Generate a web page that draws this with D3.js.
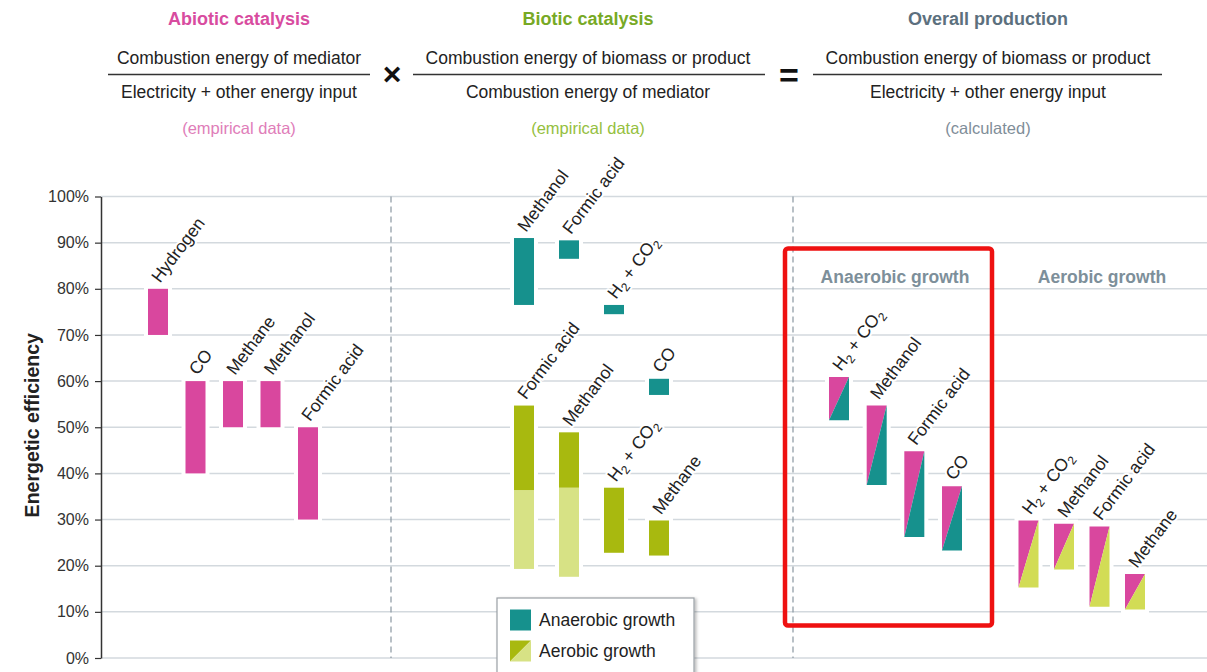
<!DOCTYPE html>
<html>
<head>
<meta charset="utf-8">
<script src="https://cdn.jsdelivr.net/npm/d3@7"></script>
<style>
  html, body { margin: 0; padding: 0; background: #fff; }
  svg { display: block; font-family: "Liberation Sans", Arial, Helvetica, sans-serif; }
</style>
</head>
<body>
<svg id="chart" width="1207" height="672"></svg>
<script>
// ---------- DATA ----------
const yTicks = [0, 0.1, 0.2, 0.3, 0.4, 0.5, 0.6, 0.7, 0.8, 0.9, 1.0];

// Abiotic catalysis (empirical)
const abioticCats = ["Hydrogen", "CO", "Methane", "Methanol", "Formic acid"];
const abioticLow  = [0.70, 0.40, 0.50, 0.50, 0.30];
const abioticHigh = [0.80, 0.60, 0.60, 0.60, 0.50];

// Biotic catalysis - anaerobic growth
const bioAnaCats = ["Methanol", "Formic acid", "H2 + CO2", "CO"];
const bioAnaLow  = [0.765, 0.865, 0.745, 0.570];
const bioAnaHigh = [0.910, 0.905, 0.765, 0.605];

// Biotic catalysis - aerobic growth (dark part and light extension)
const bioAerCats     = ["Formic acid", "Methanol", "H2 + CO2", "Methane"];
const bioAerDarkLow  = [0.364, 0.369, 0.228, 0.222];
const bioAerDarkHigh = [0.547, 0.489, 0.369, 0.298];
const bioAerLightLow  = [0.193, 0.176, null, null];
const bioAerLightHigh = [0.364, 0.369, null, null];

// Overall production - anaerobic growth (calculated)
const ovAnaCats = ["H2 + CO2", "Methanol", "Formic acid", "CO"];
const ovAnaLow  = [0.515, 0.375, 0.262, 0.233];
const ovAnaHigh = [0.609, 0.547, 0.448, 0.372];

// Overall production - aerobic growth (calculated)
const ovAerCats = ["H2 + CO2", "Methanol", "Formic acid", "Methane"];
const ovAerLow  = [0.153, 0.192, 0.111, 0.105];
const ovAerHigh = [0.298, 0.291, 0.285, 0.182];

const legendLabels = ["Anaerobic growth", "Aerobic growth"];

// ---------- STYLE ----------
const C = {
  pink: "#d9479e",
  teal: "#16918d",
  olive: "#a8b90f",
  oliveLight: "#d7e285",
  aerOverall: "#d2dc55",
  grid: "#d3d9de",
  dash: "#8a97a1",
  text: "#222",
  abio: "#d84c9f",
  abioSub: "#e07db9",
  bio: "#77a925",
  bioSub: "#95c040",
  ov: "#5c707e",
  ovSub: "#7f8e99",
  section: "#7d8f9a"
};

const svg = d3.select("#chart");
svg.append("rect").attr("width", 1207).attr("height", 672).attr("fill", "#fff");

const y = d3.scaleLinear().domain([0, 1]).range([658, 196.5]);
const xLeft = 101, xRight = 1207;
const barW = 20;

// gridlines
svg.append("g").selectAll("line").data(yTicks).join("line")
  .attr("x1", xLeft).attr("x2", xRight)
  .attr("y1", d => y(d)).attr("y2", d => y(d))
  .attr("stroke", C.grid).attr("stroke-width", 1.5);

// dashed separators
svg.append("g").selectAll("line").data([391, 793]).join("line")
  .attr("x1", d => d).attr("x2", d => d)
  .attr("y1", y(1)).attr("y2", y(0))
  .attr("stroke", C.dash).attr("stroke-width", 1.2)
  .attr("stroke-dasharray", "6,4");

// y axis
const yAxis = d3.axisLeft(y).tickValues(yTicks).tickFormat(d3.format(".0%"))
  .tickSize(6).tickSizeOuter(0).tickPadding(6);
const gy = svg.append("g").attr("transform", `translate(${xLeft},0)`).call(yAxis);
gy.select(".domain").attr("stroke", "#333").attr("stroke-width", 1.5);
gy.selectAll(".tick line").attr("stroke", "#333").attr("stroke-width", 1.2);
gy.selectAll(".tick text").attr("fill", "#333").attr("font-size", 16)
  .attr("font-family", "Liberation Sans, Arial, sans-serif");

svg.append("text")
  .attr("transform", `translate(39,${y(0.5) - 2}) rotate(-90)`)
  .attr("text-anchor", "middle")
  .attr("font-size", 19.5).attr("font-weight", "bold").attr("fill", C.text)
  .text("Energetic efficiency");

// ---------- HEADER ----------
function header(cx, title, col, num, den, sub, subCol, lineX1, lineX2) {
  const g = svg.append("g");
  g.append("text").attr("x", cx).attr("y", 19).attr("dy", "0.35em")
    .attr("text-anchor", "middle").attr("font-size", 18).attr("font-weight", "bold")
    .attr("fill", col).text(title);
  g.append("text").attr("x", cx).attr("y", 58).attr("dy", "0.35em")
    .attr("text-anchor", "middle").attr("font-size", 17.5).attr("fill", C.text).text(num);
  g.append("line").attr("x1", lineX1).attr("x2", lineX2).attr("y1", 74.5).attr("y2", 74.5)
    .attr("stroke", "#333").attr("stroke-width", 1.6);
  g.append("text").attr("x", cx).attr("y", 92).attr("dy", "0.35em")
    .attr("text-anchor", "middle").attr("font-size", 17.5).attr("fill", C.text).text(den);
  g.append("text").attr("x", cx).attr("y", 128).attr("dy", "0.35em")
    .attr("text-anchor", "middle").attr("font-size", 16.5).attr("fill", subCol).text(sub);
}
header(239, "Abiotic catalysis", C.abio, "Combustion energy of mediator",
  "Electricity + other energy input", "(empirical data)", C.abioSub, 108, 370);
header(588, "Biotic catalysis", C.bio, "Combustion energy of biomass or product",
  "Combustion energy of mediator", "(empirical data)", C.bioSub, 413, 765);
header(988, "Overall production", C.ov, "Combustion energy of biomass or product",
  "Electricity + other energy input", "(calculated)", C.ovSub, 813, 1162);

svg.append("text").attr("x", 392).attr("y", 74).attr("dy", "0.35em")
  .attr("text-anchor", "middle").attr("font-size", 32).attr("font-weight", "bold")
  .attr("fill", "#111").text("×");
svg.append("text").attr("x", 789).attr("y", 75).attr("dy", "0.35em")
  .attr("text-anchor", "middle").attr("font-size", 34).attr("font-weight", "bold")
  .attr("fill", "#111").text("=");

// ---------- BARS ----------
const haloG = svg.append("g");
const barG = svg.append("g");
const labelG = svg.append("g");

function halo(cx, lo, hi) {
  haloG.append("rect").attr("x", cx - barW / 2 - 4).attr("width", barW + 8)
    .attr("y", y(hi) - 4).attr("height", y(lo) - y(hi) + 8).attr("fill", "#fff");
}
function rectBar(cx, lo, hi, fill) {
  barG.append("rect").attr("x", cx - barW / 2).attr("width", barW)
    .attr("y", y(hi)).attr("height", y(lo) - y(hi)).attr("fill", fill);
}
function splitBar(cx, lo, hi, topCol, botCol) {
  const x0 = cx - barW / 2, x1 = cx + barW / 2, yt = y(hi), yb = y(lo);
  barG.append("path").attr("d", `M${x0},${yt}L${x1},${yt}L${x0},${yb}Z`).attr("fill", topCol);
  barG.append("path").attr("d", `M${x1},${yt}L${x1},${yb}L${x0},${yb}Z`).attr("fill", botCol);
}
function label(cx, top, name) {
  const t = labelG.append("text")
    .attr("transform", `translate(${cx + 2},${y(top) - 5}) rotate(-53)`)
    .attr("font-size", 17.5).attr("fill", C.text)
    .attr("stroke", "#fff").attr("stroke-width", 4).attr("paint-order", "stroke")
    .attr("stroke-linejoin", "round");
  const parts = name.split(/(\d)/).filter(s => s.length);
  let shifted = false;
  parts.forEach(p => {
    if (/^\d$/.test(p)) {
      t.append("tspan").attr("font-size", 12).attr("dy", 4).text(p);
      shifted = true;
    } else {
      const ts = t.append("tspan").text(p);
      if (shifted) { ts.attr("dy", -4); shifted = false; }
    }
  });
}

// abiotic
const xAb = d3.scalePoint().domain(d3.range(abioticCats.length)).range([158, 308]);
abioticCats.forEach((c, i) => {
  halo(xAb(i), abioticLow[i], abioticHigh[i]);
  rectBar(xAb(i), abioticLow[i], abioticHigh[i], C.pink);
  label(xAb(i), abioticHigh[i], c);
});

// biotic
const xBio = d3.scalePoint().domain(d3.range(4)).range([524, 659]);
bioAnaCats.forEach((c, i) => {
  halo(xBio(i), bioAnaLow[i], bioAnaHigh[i]);
  rectBar(xBio(i), bioAnaLow[i], bioAnaHigh[i], C.teal);
  label(xBio(i), bioAnaHigh[i], c);
});
bioAerCats.forEach((c, i) => {
  const lo = bioAerLightLow[i] != null ? bioAerLightLow[i] : bioAerDarkLow[i];
  halo(xBio(i), lo, bioAerDarkHigh[i]);
  if (bioAerLightLow[i] != null) rectBar(xBio(i), bioAerLightLow[i], bioAerLightHigh[i], C.oliveLight);
  rectBar(xBio(i), bioAerDarkLow[i], bioAerDarkHigh[i], C.olive);
  label(xBio(i), bioAerDarkHigh[i], c);
});

// overall anaerobic
const xOvA = d3.scalePoint().domain(d3.range(4)).range([839, 952]);
ovAnaCats.forEach((c, i) => {
  halo(xOvA(i), ovAnaLow[i], ovAnaHigh[i]);
  splitBar(xOvA(i), ovAnaLow[i], ovAnaHigh[i], C.pink, C.teal);
  label(xOvA(i), ovAnaHigh[i], c);
});
// overall aerobic
const xOvB = d3.scalePoint().domain(d3.range(4)).range([1028.5, 1135]);
ovAerCats.forEach((c, i) => {
  halo(xOvB(i), ovAerLow[i], ovAerHigh[i]);
  splitBar(xOvB(i), ovAerLow[i], ovAerHigh[i], C.pink, C.aerOverall);
  label(xOvB(i), ovAerHigh[i], c);
});

// section titles
svg.append("text").attr("x", 895).attr("y", 277).attr("dy", "0.35em")
  .attr("text-anchor", "middle").attr("font-size", 17.5).attr("font-weight", "bold")
  .attr("fill", C.section).text("Anaerobic growth");
svg.append("text").attr("x", 1102).attr("y", 277).attr("dy", "0.35em")
  .attr("text-anchor", "middle").attr("font-size", 17.5).attr("font-weight", "bold")
  .attr("fill", C.section).text("Aerobic growth");

// red highlight box
svg.append("rect").attr("x", 785).attr("y", 248.5).attr("width", 207).attr("height", 377)
  .attr("rx", 3).attr("fill", "none").attr("stroke", "#ee1111").attr("stroke-width", 4.5);

// ---------- LEGEND ----------
const defs = svg.append("defs");
const f = defs.append("filter").attr("id", "sh").attr("x", "-10%").attr("y", "-10%")
  .attr("width", "130%").attr("height", "130%");
f.append("feDropShadow").attr("dx", 2).attr("dy", 1).attr("stdDeviation", 1.5)
  .attr("flood-color", "#000").attr("flood-opacity", 0.25);

const lg = svg.append("g");
lg.append("rect").attr("x", 497).attr("y", 598).attr("width", 197).attr("height", 90)
  .attr("fill", "#fff").attr("stroke", "#9aa0a5").attr("stroke-width", 1.2)
  .attr("filter", "url(#sh)");
const ly = d3.scalePoint().domain(legendLabels).range([620, 651]);
lg.append("rect").attr("x", 510).attr("y", ly(legendLabels[0]) - 10.5)
  .attr("width", 21).attr("height", 21).attr("fill", C.teal);
{
  const x0 = 510, x1 = 531, yt = ly(legendLabels[1]) - 10.5, yb = yt + 21;
  lg.append("path").attr("d", `M${x0},${yt}L${x1},${yt}L${x0},${yb}Z`).attr("fill", C.olive);
  lg.append("path").attr("d", `M${x1},${yt}L${x1},${yb}L${x0},${yb}Z`).attr("fill", C.oliveLight);
}
lg.selectAll("text.lt").data(legendLabels).join("text").attr("class", "lt")
  .attr("x", 539).attr("y", d => ly(d)).attr("dy", "0.35em")
  .attr("font-size", 17.5).attr("fill", C.text).text(d => d);
</script>
</body>
</html>
